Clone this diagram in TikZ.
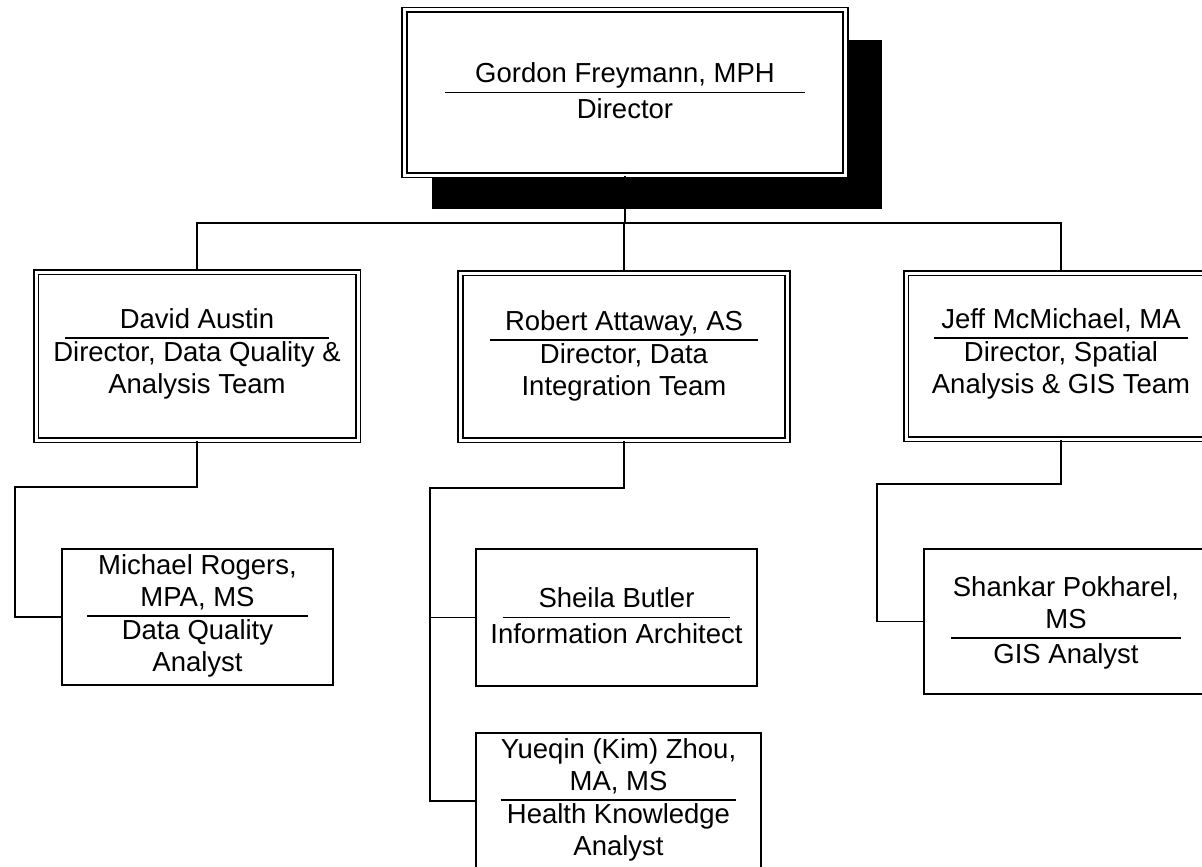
\documentclass[tikz,border=0pt]{standalone}
\usepackage{fontspec}
\setmainfont{Liberation Sans}
\usetikzlibrary{calc,shadows}

\begin{document}
\begin{tikzpicture}[x = 1pt, y = 1pt,
    link/.style = {line width = 1.6pt},
    bar/.style = {line width = 1.6pt},
    card/.style = {draw, line width = 1.6pt, fill = white, inner sep = 0pt},
    headcard/.style = {card, double = white, double distance = 3pt},
    who/.style = {anchor = south, inner sep = 0pt, minimum width = #1, align = center,
      font = \fontsize{27.5}{32}\selectfont,
      execute at begin node = \strut, execute at end node = \strut,
      append after command = {(\tikzlastnode.south west) edge[bar] (\tikzlastnode.south east)}},
    what/.style = {anchor = north, inner xsep = 0pt, inner ysep = 3pt, align = center,
      font = \fontsize{27.5}{32}\selectfont,
      execute at begin node = \strut, execute at end node = \strut}]
    \useasboundingbox (0,0) rectangle (1202,-867);
    \clip (0,0) rectangle (1202,-867);

    % director
    \node[headcard, minimum width = 441, minimum height = 165,
      drop shadow = {shadow xshift = 31.5pt, shadow yshift = -31.5pt, shadow scale = 1.02,
        fill = black, opacity = 1}] (dir) at (625,-92.5) {};
    \node[who = 360] (dir-n) at (dir) {Gordon Freymann, MPH};
    \node[what] (dir-t) at (dir-n.south) {Director};

    % team directors
    \node[headcard, minimum width = 322, minimum height = 168] (austin) at (197,-356) {};
    \node[who = 263] (austin-n) at ($(austin) + (0,18)$) {David Austin};
    \node[what] (austin-t) at (austin-n.south) {Director, Data Quality \&\\Analysis Team};

    \node[headcard, minimum width = 327, minimum height = 167] (attaway) at (624,-356.5) {};
    \node[who = 267] (attaway-n) at ($(attaway) + (0,16.5)$) {Robert Attaway, AS};
    \node[what] (attaway-t) at (attaway-n.south) {Director, Data\\Integration Team};

    \node[headcard, minimum width = 310, minimum height = 166] (mcmichael) at (1061,-356) {};
    \node[who = 253] (mcmichael-n) at ($(mcmichael) + (0,18)$) {Jeff McMichael, MA};
    \node[what] (mcmichael-t) at (mcmichael-n.south) {Director, Spatial\\Analysis \& GIS Team};

    % staff
    \node[card, minimum width = 271, minimum height = 136] (rogers) at (197.5,-617) {};
    \node[who = 220] (rogers-n) at ($(rogers) + (0,1)$) {Michael Rogers,\\MPA, MS};
    \node[what] (rogers-t) at (rogers-n.south) {Data Quality\\Analyst};

    \node[card, minimum width = 281, minimum height = 137] (butler) at (616.5,-617.5) {};
    \node[who = 227] (butler-n) at (butler) {Sheila Butler};
    \node[what] (butler-t) at (butler-n.south) {Information Architect};

    \node[card, minimum width = 285, minimum height = 136] (zhou) at (618.5,-801) {};
    \node[who = 230] (zhou-n) at ($(zhou) + (0,1)$) {Yueqin (Kim) Zhou,\\MA, MS};
    \node[what] (zhou-t) at (zhou-n.south) {Health Knowledge\\Analyst};

    \node[card, minimum width = 284, minimum height = 145] (pokharel) at (1066,-621.5) {};
    \node[who = 229] (pokharel-n) at ($(pokharel) + (0,-16.5)$) {Shankar Pokharel,\\MS};
    \node[what] (pokharel-t) at (pokharel-n.south) {GIS Analyst};

    % reporting lines
    \coordinate (bus) at (625,-223);
    \draw[link] (dir.south) -- (bus);
    \draw[link] (bus) -| (austin.north);
    \draw[link] (bus) -| (attaway.north);
    \draw[link] (bus) -| (mcmichael.north);
    \draw[link] (austin.south) -- ++(0,-46) -| ($(rogers.west) + (-46,0)$) -- (rogers.west);
    \draw[link] (attaway.south) -- ++(0,-47) -| ($(zhou.west) + (-45,0)$) -- (zhou.west);
    \draw[link] (attaway.south) -- ++(0,-47) -| ($(butler.west) + (-45,0)$) -- (butler.west);
    \draw[link] (mcmichael.south) -- ++(0,-44) -| ($(pokharel.west) + (-46,0)$) -- (pokharel.west);
\end{tikzpicture}
\end{document}
